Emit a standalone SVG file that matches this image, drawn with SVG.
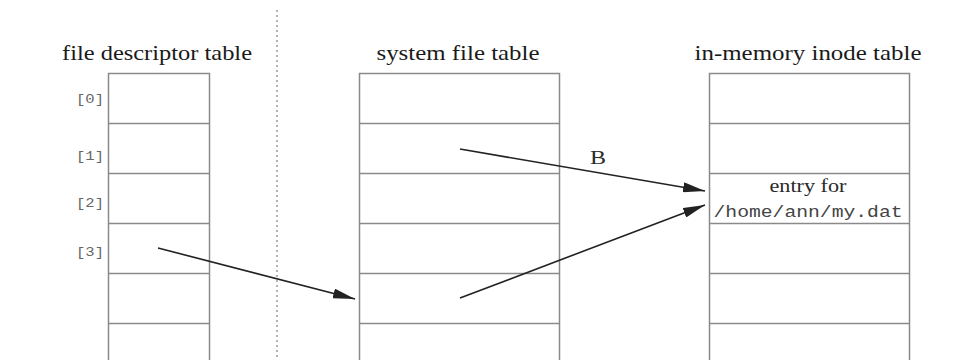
<svg xmlns="http://www.w3.org/2000/svg" width="961" height="360" viewBox="0 0 961 360">
<defs>
<style>
.tbl{fill:#fff;stroke:#8a8a8a;stroke-width:1.5}
.row{stroke:#8a8a8a;stroke-width:1.5}
.title{font-family:"Liberation Serif","Times New Roman",serif;font-size:21px;fill:#1a1a1a;text-anchor:middle}
.idx{font-family:"Liberation Mono","Courier New",monospace;font-size:13px;fill:#666;text-anchor:end}
.entry{font-family:"Liberation Serif","Times New Roman",serif;font-size:18px;fill:#2a2a2a;text-anchor:middle}
.mono{font-family:"Liberation Mono","Courier New",monospace;font-size:16px;fill:#444;text-anchor:middle}
.arrow{stroke:#222;stroke-width:1.6;fill:none;marker-end:url(#ah)}
.sep{stroke:#999;stroke-width:1.5;stroke-dasharray:2,3}
</style>
<marker id="ah" markerUnits="userSpaceOnUse" viewBox="0 0 22 10" refX="22" refY="5" markerWidth="22" markerHeight="10" orient="auto">
<path d="M0,0 L22,5 L0,10 z" fill="#222"/>
</marker>
</defs>
<rect width="961" height="360" fill="#fff"/>
<line class="sep" x1="277" y1="10" x2="277" y2="360"/>

<g id="fd-table">
<text class="title" x="157" y="60" textLength="190" lengthAdjust="spacingAndGlyphs">file descriptor table</text>
<rect class="tbl" x="108.5" y="73.5" width="101" height="310"/>
<line class="row" x1="108.5" y1="123.5" x2="209.5" y2="123.5"/>
<line class="row" x1="108.5" y1="173.5" x2="209.5" y2="173.5"/>
<line class="row" x1="108.5" y1="223.5" x2="209.5" y2="223.5"/>
<line class="row" x1="108.5" y1="273.5" x2="209.5" y2="273.5"/>
<line class="row" x1="108.5" y1="323.5" x2="209.5" y2="323.5"/>
<text class="idx" x="104" y="103" textLength="28" lengthAdjust="spacingAndGlyphs">[0]</text>
<text class="idx" x="104" y="160" textLength="28" lengthAdjust="spacingAndGlyphs">[1]</text>
<text class="idx" x="104" y="207" textLength="28" lengthAdjust="spacingAndGlyphs">[2]</text>
<text class="idx" x="104" y="256" textLength="28" lengthAdjust="spacingAndGlyphs">[3]</text>
</g>

<g id="sys-table">
<text class="title" x="458" y="60" textLength="163" lengthAdjust="spacingAndGlyphs">system file table</text>
<rect class="tbl" x="359.5" y="73.5" width="200" height="310"/>
<line class="row" x1="359.5" y1="123.5" x2="559.5" y2="123.5"/>
<line class="row" x1="359.5" y1="173.5" x2="559.5" y2="173.5"/>
<line class="row" x1="359.5" y1="223.5" x2="559.5" y2="223.5"/>
<line class="row" x1="359.5" y1="273.5" x2="559.5" y2="273.5"/>
<line class="row" x1="359.5" y1="323.5" x2="559.5" y2="323.5"/>
</g>

<g id="inode-table">
<text class="title" x="808" y="60" textLength="227" lengthAdjust="spacingAndGlyphs">in-memory inode table</text>
<rect class="tbl" x="709.5" y="73.5" width="200" height="310"/>
<line class="row" x1="709.5" y1="123.5" x2="909.5" y2="123.5"/>
<line class="row" x1="709.5" y1="173.5" x2="909.5" y2="173.5"/>
<line class="row" x1="709.5" y1="223.5" x2="909.5" y2="223.5"/>
<line class="row" x1="709.5" y1="273.5" x2="909.5" y2="273.5"/>
<line class="row" x1="709.5" y1="323.5" x2="909.5" y2="323.5"/>
<text class="entry" x="808" y="192" textLength="77" lengthAdjust="spacingAndGlyphs">entry for</text>
<text class="mono" x="808" y="217" textLength="189" lengthAdjust="spacingAndGlyphs">/home/ann/my.dat</text>
</g>

<g id="connectors">
<line class="arrow" x1="158" y1="248" x2="355" y2="299"/>
<line class="arrow" x1="460" y1="149" x2="705" y2="191"/>
<line class="arrow" x1="460" y1="298" x2="705" y2="205"/>
<text class="entry" x="598" y="164" font-size="20" textLength="16" lengthAdjust="spacingAndGlyphs">B</text>
</g>
</svg>
